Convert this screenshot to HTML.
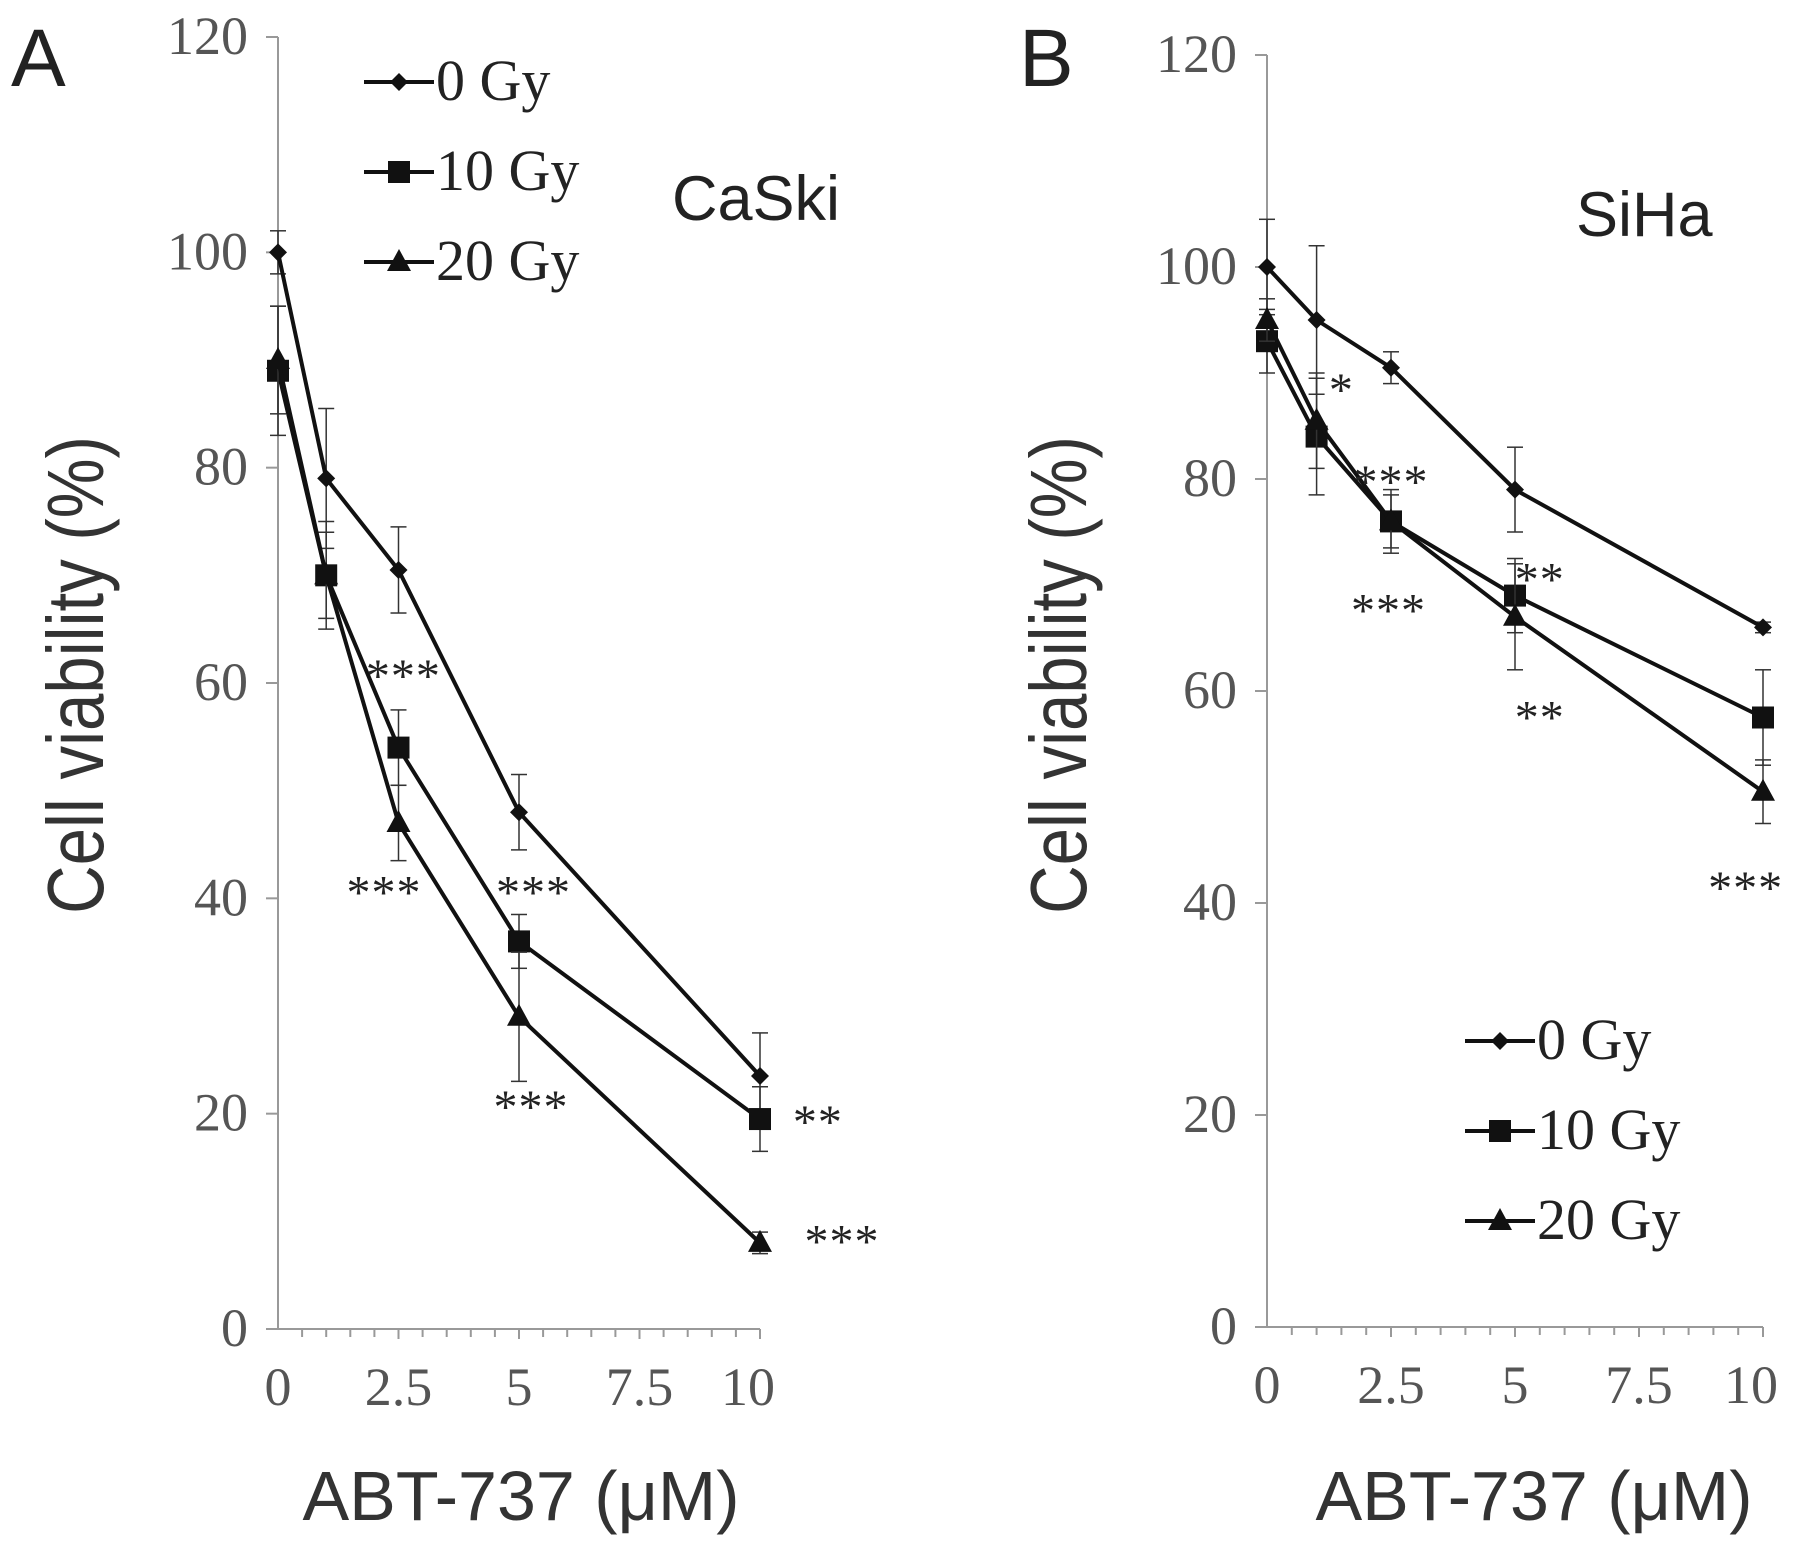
<!DOCTYPE html>
<html><head><meta charset="utf-8"><style>
html,body{margin:0;padding:0;background:#fff;}
svg{display:block;}
</style></head><body>
<svg id="fig" width="1795" height="1544" xmlns="http://www.w3.org/2000/svg">
<rect width="1795" height="1544" fill="#fff"/>
</svg>
<script>
const xVals = [0, 1, 2.5, 5, 10];
const xTickVals = [0, 2.5, 5, 7.5, 10];
const xTickLabels = ["0", "2.5", "5", "7.5", "10"];
const yTickVals = [0, 20, 40, 60, 80, 100, 120];
const seriesNames = ["0 Gy", "10 Gy", "20 Gy"];
const caski0 = [100, 79, 70.5, 48, 23.5];
const caski10 = [89, 70, 54, 36, 19.5];
const caski20 = [90, 70, 47, 29, 8];
const caskiErr0 = [2, 6.5, 4, 3.5, 4];
const caskiErr10 = [6, 5, 3.5, 2.5, 3];
const caskiErr20 = [5, 4, 3.5, 6, 1];
const siha0 = [100, 95, 90.5, 79, 66];
const siha10 = [93, 84, 76, 69, 57.5];
const siha20 = [95, 85.5, 76, 67, 50.5];
const sihaErr0 = [4.5, 7, 1.5, 4, 0.5];
const sihaErr10 = [3, 5.5, 3, 3.5, 4.5];
const sihaErr20 = [2, 4.5, 2.5, 5, 3];
const caskiStars = [["***", 2.6, 62.3], ["***", 2.2, 42.2], ["***", 5.3, 42.2], ["***", 5.25, 22.3], ["**", 11.2, 20.9], ["***", 11.7, 9.8]];
const sihaStars = [["*", 1.5, 90.1], ["***", 2.5, 81.4], ["***", 2.45, 69.3], ["**", 5.5, 72.2], ["**", 5.5, 59.2], ["***", 9.65, 43.1]];

const NS = "http://www.w3.org/2000/svg";
const svg = document.getElementById("fig");
function mk(tag, attrs, parent) {
  const e = document.createElementNS(NS, tag);
  for (const k in attrs) e.setAttribute(k, attrs[k]);
  (parent || svg).appendChild(e);
  return e;
}

function panel(cfg) {
  const g = mk("g", {});
  
  
  const X = v => cfg.x0 + (cfg.x1 - cfg.x0) * v / 10;
  const Y = v => cfg.y0 - (cfg.y0 - cfg.y1) * v / 120;
  const serif = '"Liberation Serif", serif';
  const sans = '"Liberation Sans", sans-serif';
  const ya = mk("line", {x1: X(0), y1: Y(0), x2: X(0), y2: Y(120), stroke: "#999", "stroke-width": 2}, g);
  
  
  const xa = mk("line", {x1: X(0), y1: Y(0), x2: X(10), y2: Y(0), stroke: "#999", "stroke-width": 2}, g);
  
  
  yTickVals.forEach(v => {
    mk("line", {x1: X(0) - 12, y1: Y(v), x2: X(0), y2: Y(v), stroke: "#999", "stroke-width": 2}, g);
    const t = mk("text", {x: X(0) - 30, y: Y(v) + 17, "text-anchor": "end", "font-family": serif, "font-size": 54, fill: "#555"}, g);
    t.textContent = v;
    
    
  });
  for (let i = 1; i <= 20; i++) {
    const v = i * 0.5;
    mk("line", {x1: X(v), y1: Y(0), x2: X(v), y2: Y(0) + (i % 5 === 0 ? 10 : 8), stroke: "#999", "stroke-width": 2}, g);
  }
  xTickVals.forEach((v, i) => {
    const t = mk("text", {x: X(v) - (v === 10 ? 12 : 0), y: Y(0) + 76, "text-anchor": "middle", "font-family": serif, "font-size": 54, fill: "#555"}, g);
    t.textContent = xTickLabels[i];
    
    
  });
  const yt = mk("text", {x: 0, y: 0, transform: `translate(${cfg.ytx},${cfg.yty}) rotate(-90) scale(0.84,1)`, "text-anchor": "middle", "font-family": sans, "font-size": 80, fill: "#333"}, g);
  yt.textContent = "Cell viability (%)";
  
  
  const xt = mk("text", {x: cfg.xtx, y: 1520, "text-anchor": "middle", "font-family": sans, "font-size": 70, fill: "#333"}, g);
  xt.textContent = "ABT-737 (μM)";
  
  
  const pl = mk("text", {x: cfg.plx, y: 86, "font-family": sans, "font-size": 82, fill: "#222"}, g);
  pl.textContent = cfg.letter;
  
  
  const cl = mk("text", {x: cfg.clx, y: cfg.cly, "font-family": sans, "font-size": 63, fill: "#222"}, g);
  cl.textContent = cfg.cell;
  
  
  const markers = ["diamond", "square", "triangle"];
  cfg.series.forEach((s, si) => {
    const sg = mk("g", {}, g);
    
    
    s.vals.forEach((v, i) => {
      const x = X(xVals[i]), e = s.err[i];
      mk("line", {x1: x, y1: Y(v - e), x2: x, y2: Y(v + e), stroke: "#333", "stroke-width": 1.5}, sg);
      mk("line", {x1: x - 8, y1: Y(v - e), x2: x + 8, y2: Y(v - e), stroke: "#333", "stroke-width": 1.5}, sg);
      mk("line", {x1: x - 8, y1: Y(v + e), x2: x + 8, y2: Y(v + e), stroke: "#333", "stroke-width": 1.5}, sg);
    });
    const pts = s.vals.map((v, i) => X(xVals[i]) + "," + Y(v)).join(" ");
    const pl2 = mk("polyline", {points: pts, fill: "none", stroke: "#111", "stroke-width": 4}, sg);
    
    
    s.vals.forEach((v, i) => drawMarker(sg, markers[si], X(xVals[i]), Y(v)));
  });
  cfg.stars.forEach(st => {
    const t = mk("text", {x: X(st[1]), y: Y(st[2]) + 34, "text-anchor": "middle", "font-family": serif, "font-size": 48, fill: "#222", "letter-spacing": 1}, g);
    t.textContent = st[0];
    
    
  });
  const lg = mk("g", {}, g);
  
  
  seriesNames.forEach((n, i) => {
    const y = cfg.legY + i * 90;
    const eg = mk("g", {}, lg);
    
    
    mk("line", {x1: cfg.legX, y1: y, x2: cfg.legX + 70, y2: y, stroke: "#111", "stroke-width": 4}, eg);
    drawMarker(eg, markers[i], cfg.legX + 35, y);
    const t = mk("text", {x: cfg.legX + 72, y: y + 18, "font-family": serif, "font-size": 58, fill: "#222"}, eg);
    t.textContent = n;
  });
  function drawMarker(parent, type, x, y) {
    let m;
    if (type === "diamond") m = mk("polygon", {points: `${x},${y-9} ${x+9},${y} ${x},${y+9} ${x-9},${y}`, fill: "#111"}, parent);
    else if (type === "square") m = mk("rect", {x: x - 11, y: y - 11, width: 22, height: 22, fill: "#111"}, parent);
    else m = mk("polygon", {points: `${x},${y-13} ${x+12},${y+9} ${x-12},${y+9}`, fill: "#111"}, parent);
    
    
  }
}

panel({name: "panel-a-caski", letter: "A", cell: "CaSki", x0: 278, x1: 760, y0: 1329, y1: 37,
  ytx: 103, yty: 675, xtx: 521, plx: 11, clx: 672, cly: 220, legX: 364, legY: 82,
  series: [{vals: caski0, err: caskiErr0}, {vals: caski10, err: caskiErr10}, {vals: caski20, err: caskiErr20}],
  stars: caskiStars});
panel({name: "panel-b-siha", letter: "B", cell: "SiHa", x0: 1267, x1: 1763, y0: 1327, y1: 55,
  ytx: 1086, yty: 675, xtx: 1534, plx: 1019, clx: 1576, cly: 236, legX: 1465, legY: 1041,
  series: [{vals: siha0, err: sihaErr0}, {vals: siha10, err: sihaErr10}, {vals: siha20, err: sihaErr20}],
  stars: sihaStars});
</script>
</body></html>
